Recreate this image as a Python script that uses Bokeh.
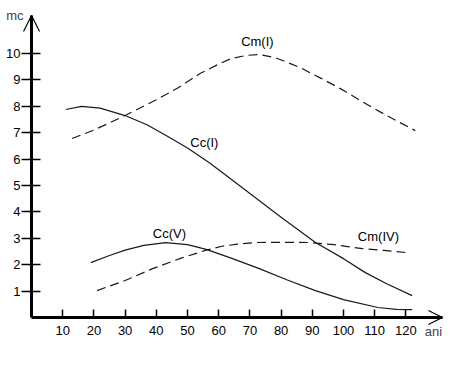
from bokeh.plotting import figure
from bokeh.models import Range1d, FixedTicker, Arrow, OpenHead, Label
from bokeh.core.properties import value
from bokeh.embed import file_html
from bokeh.resources import INLINE

# ---- data ----
x_ticks = [10, 20, 30, 40, 50, 60, 70, 80, 90, 100, 110, 120]
y_ticks = [1, 2, 3, 4, 5, 6, 7, 8, 9, 10]

cc1_x = [11, 16, 22, 30, 37, 43, 50, 57, 64, 70, 80, 91, 100, 107, 114, 122]
cc1_y = [7.88, 8.0, 7.93, 7.65, 7.3, 6.9, 6.42, 5.86, 5.24, 4.7, 3.8, 2.84, 2.23, 1.7, 1.27, 0.83]

cm1_x = [13, 20, 30, 40, 47, 54, 60, 64, 69, 73, 78, 86, 93, 99, 105, 110, 117, 123]
cm1_y = [6.78, 7.1, 7.65, 8.25, 8.7, 9.24, 9.6, 9.81, 9.93, 9.96, 9.85, 9.47, 9.05, 8.67, 8.25, 7.9, 7.45, 7.08]

cc5_x = [19, 25, 30, 36, 43, 50, 56, 64, 73, 82, 91, 100, 111, 117, 122]
cc5_y = [2.08, 2.35, 2.55, 2.73, 2.84, 2.76, 2.58, 2.25, 1.85, 1.42, 1.02, 0.68, 0.38, 0.31, 0.3]

cm4_x = [21, 30, 39, 48, 56, 61, 66, 72, 80, 89, 97, 106, 113, 120]
cm4_y = [1.02, 1.4, 1.86, 2.25, 2.55, 2.7, 2.78, 2.84, 2.85, 2.84, 2.76, 2.61, 2.54, 2.46]

curve_labels = ["Cm(I)", "Cc(I)", "Cc(V)", "Cm(IV)"]
label_x = [72.4, 55.4, 44.2, 111.2]
label_y = [10.47, 6.63, 3.18, 3.07]

x_range = (-9.94, 138.14)
y_range = (-2.083, 12.008)
x_tip = 131.7
y_tip = 11.44

FONT = "Liberation Sans"

p = figure(frame_width=462, frame_height=372,
           x_range=Range1d(*x_range), y_range=Range1d(*y_range),
           min_border=0,
           output_backend="svg", toolbar_location=None)
p.outline_line_color = None
p.xgrid.visible = False
p.ygrid.visible = False
p.background_fill_color = "white"
p.border_fill_color = "white"

for ax in (p.xaxis, p.yaxis):
    ax.fixed_location = 0
    ax.axis_line_width = 3
    ax.axis_line_color = "black"
    ax.major_tick_line_color = "black"
    ax.major_tick_line_width = 1.5
    ax.minor_tick_line_color = None
    ax.major_label_text_font = FONT
    ax.major_label_text_font_size = "13px"
    ax.major_label_text_color = "black"

p.xaxis.ticker = FixedTicker(ticks=x_ticks)
p.yaxis.ticker = FixedTicker(ticks=y_ticks)
p.xaxis.bounds = (0, x_tip)
p.yaxis.bounds = (0, y_tip)
p.xaxis.major_tick_in = 8
p.xaxis.major_tick_out = 1
p.xaxis.major_label_standoff = 7
p.yaxis.major_tick_in = 9
p.yaxis.major_tick_out = 10
p.yaxis.major_label_standoff = 1

line_col = "#1a1a1a"
p.line(cc1_x, cc1_y, line_color=line_col, line_width=1.2)
p.line(cc5_x, cc5_y, line_color=line_col, line_width=1.2)
p.line(cm1_x, cm1_y, line_color=line_col, line_width=1.2, line_dash="9 5")
p.line(cm4_x, cm4_y, line_color=line_col, line_width=1.2, line_dash="9 5")

p.text(x=label_x, y=label_y, text=curve_labels, text_font=value(FONT),
       text_font_size="13px", text_color="black",
       text_align="center", text_baseline="middle")

p.add_layout(Arrow(end=OpenHead(size=16, line_width=1.2, line_color="black"),
                   x_start=0, y_start=y_tip - 0.8, x_end=0, y_end=y_tip, line_alpha=0))
p.add_layout(Arrow(end=OpenHead(size=14, line_width=1.2, line_color="black"),
                   x_start=x_tip - 5, y_start=0, x_end=x_tip, y_end=0, line_alpha=0))

p.add_layout(Label(x=0, y=y_tip, text="mc", x_offset=-8, text_align="right",
                   text_baseline="middle", text_font=FONT, text_font_size="13px"))
p.add_layout(Label(x=x_tip, y=0, text="ani", x_offset=-9, y_offset=-14, text_align="center",
                   text_baseline="middle", text_font=FONT, text_font_size="13px"))

open("out.html", "w").write(file_html(p, INLINE))
